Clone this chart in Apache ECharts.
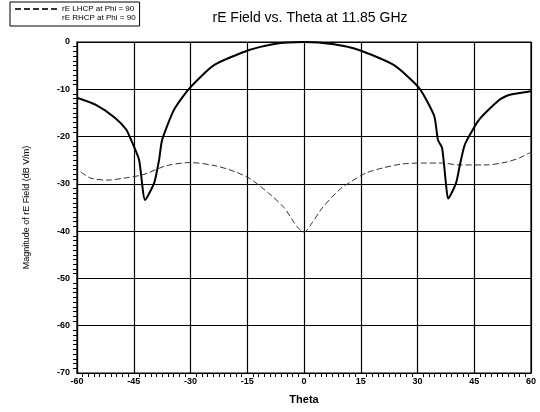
<!DOCTYPE html>
<html>
<head>
<meta charset="utf-8">
<script src="https://cdn.jsdelivr.net/npm/echarts@6/dist/echarts.min.js"></script>
<style>
html,body{margin:0;padding:0;background:#fff;}
#c{width:540px;height:412px;}
</style>
</head>
<body>
<div id="c"></div>
<script>
var titleText = 'rE Field vs. Theta at 11.85 GHz';
var xAxisName = 'Theta';
var yAxisName = 'Magnitude of rE Field (dB V/m)';
var seriesNames = ['rE LHCP at Phi = 90', 'rE RHCP at Phi = 90'];

// RHCP (solid) curve
var rhcpTheta = [-60, -55, -50, -47, -45.7, -43.6, -42.0, -39.6, -38.3, -37.5, -34.4, -30.4, -23.8, -14.5, -7.9, 0, 7.9, 14.5, 23.8, 30.4, 34.4, 35.4, 36.5, 37.5, 38.1, 40.2, 41.2, 42.3, 43.1, 46.2, 51.5, 54.2, 60];
var rhcpVal   = [-11.8, -13.3, -16.0, -18.5, -20.7, -24.9, -33.4, -29.8, -24.9, -20.7, -14.4, -9.9, -4.9, -1.7, -0.4, 0, -0.5, -1.7, -4.9, -9.7, -15.6, -20.7, -22.4, -29.8, -33.1, -29.8, -26.0, -22.2, -20.7, -16.5, -12.3, -11.2, -10.4];

// LHCP (dashed) curve
var lhcpTheta = [-59, -56.3, -52, -47.6, -42.3, -36.5, -30, -23.3, -18, -14.5, -12.7, -9.3, -5.3, -1.9, 0, 2.1, 4.8, 9.3, 11.9, 16.4, 21, 25.9, 31, 36.5, 41.0, 48.1, 53.4, 57, 60];
var lhcpVal   = [-27.5, -28.8, -29.2, -28.8, -28.0, -26.2, -25.5, -26.2, -27.5, -28.8, -29.8, -32.0, -35.0, -39.0, -40.2, -38.3, -35.1, -31.3, -29.8, -27.7, -26.6, -25.8, -25.6, -25.6, -26.0, -26.0, -25.4, -24.5, -23.3];

var xTicks = {min: -60, max: 60, interval: 15};
var yTicks = {min: -70, max: 0, interval: 10};

function pairs(xs, ys){ return xs.map(function(x,i){ return [x, ys[i]]; }); }

var font = 'Liberation Sans';
var chart = echarts.init(document.getElementById('c'), null, {renderer:'canvas'});
chart.setOption({
  animation: false,
  backgroundColor: '#fff',
  title: {
    text: titleText, left: 305, top: 6, textAlign: 'center',
    textStyle: {fontFamily: font, fontSize: 14, fontWeight: 'normal', color: '#000'}
  },
  legend: {
    show: true,
    orient: 'vertical', left: 10, top: 2,
    itemWidth: 42, itemHeight: 8, itemGap: 1,
    padding: [3, 4, 4, 4],
    borderColor: '#000', borderWidth: 1,
    itemStyle: {opacity: 0},
    textStyle: {fontFamily: font, fontSize: 8, color: '#000'},
    data: [
      {name: seriesNames[0]},
      {name: seriesNames[1], lineStyle: {opacity: 0}}
    ]
  },
  grid: {left: 77, right: 9, top: 42, bottom: 39, show: true, borderColor: '#000', borderWidth: 1.2},
  xAxis: {
    type: 'value', min: xTicks.min, max: xTicks.max, interval: xTicks.interval,
    name: xAxisName, nameLocation: 'middle', nameGap: 21,
    nameTextStyle: {fontFamily: font, fontSize: 11, fontWeight: 'bold', color: '#000'},
    axisLine: {show: true, onZero: false, lineStyle: {color: '#000', width: 1.2}},
    axisTick: {show: false},
    minorTick: {show: true, splitNumber: 10, length: 4, lineStyle: {color: '#000', width: 1}},
    axisLabel: {fontFamily: font, fontSize: 9, fontWeight: 'bold', color: '#000', margin: 4},
    splitLine: {show: true, lineStyle: {color: '#000', width: 1.2}}
  },
  yAxis: {
    type: 'value', min: yTicks.min, max: yTicks.max, interval: yTicks.interval,
    name: yAxisName, nameLocation: 'middle', nameGap: 46, nameRotate: 90,
    nameTextStyle: {fontFamily: font, fontSize: 9, color: '#000'},
    axisLine: {show: true, onZero: false, lineStyle: {color: '#000', width: 1.2}},
    axisTick: {show: false},
    minorTick: {show: true, splitNumber: 10, length: 4, lineStyle: {color: '#000', width: 1}},
    axisLabel: {fontFamily: font, fontSize: 9, fontWeight: 'bold', color: '#000', margin: 7},
    splitLine: {show: true, lineStyle: {color: '#000', width: 1.2}}
  },
  series: [
    {
      name: seriesNames[0], type: 'line', data: pairs(lhcpTheta, lhcpVal),
      showSymbol: false, symbol: 'none', smooth: 0.3,
      lineStyle: {color: '#333', width: 1, type: [6, 3]}, itemStyle: {color: '#333'}
    },
    {
      name: seriesNames[1], type: 'line', data: pairs(rhcpTheta, rhcpVal),
      showSymbol: false, symbol: 'none', smooth: 0.2,
      lineStyle: {color: '#000', width: 2}, itemStyle: {color: '#000'}
    }
  ]
});
</script>
</body>
</html>
